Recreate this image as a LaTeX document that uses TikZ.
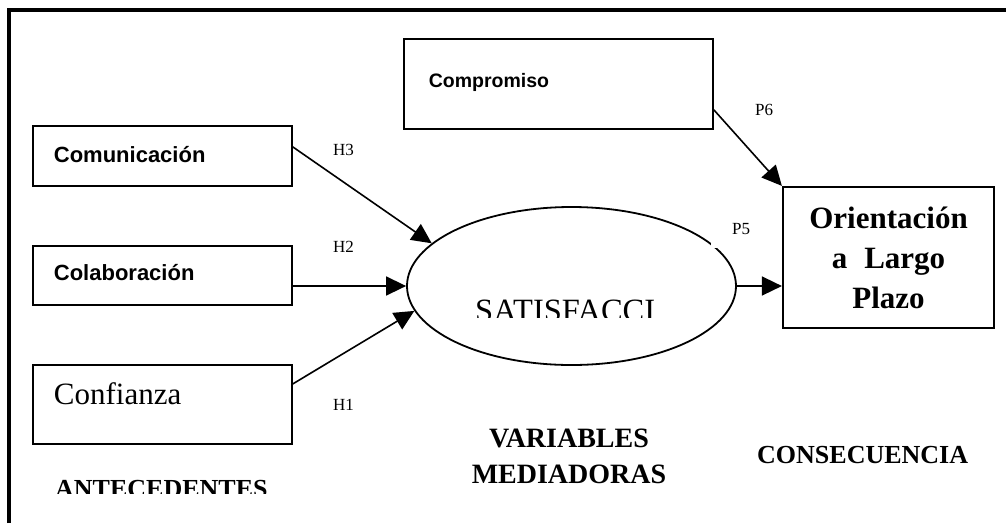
\documentclass[tikz,border=0pt]{standalone}
\usepackage{fontspec}
\setmainfont{Liberation Serif}
\setsansfont{Liberation Sans}
\usetikzlibrary{arrows.meta,shapes.geometric}
\begin{document}
\begin{tikzpicture}[x=1pt,y=-1pt,
  box/.style={draw,line width=1.8pt,rectangle,inner ysep=0pt,align=left},
  conn/.style={line width=1.6pt,-{Triangle[length=20pt,width=19pt]}},
  lab/.style={font=\fontsize{17}{17}\selectfont,anchor=base west,inner sep=0pt},
  sanslbl/.style={font=\sffamily\bfseries\fontsize{22}{22}\selectfont},
  hdr/.style={font=\bfseries\fontsize{28}{28}\selectfont,anchor=base,inner sep=0pt}]
\useasboundingbox (0,0) rectangle (1006,523);
% frame
\draw[line width=4pt,line join=miter] (9,523) -- (9,10) -- (1006,10);
% boxes
\node[box,sanslbl,anchor=north west,inner xsep=21pt,text width=217pt,text height=37pt,text depth=23pt] (com) at (32,125) {Comunicación};
\node[box,sanslbl,anchor=north west,inner xsep=21pt,text width=217pt,text height=35pt,text depth=24pt] (col) at (32,245) {Colaboración};
\node[box,font=\fontsize{31}{31}\selectfont,anchor=north west,inner xsep=21pt,text width=217pt,text height=40pt,text depth=39pt] (conf) at (32,364) {Confianza};
\node[box,font=\sffamily\bfseries\fontsize{19.5}{19.5}\selectfont,anchor=north west,inner xsep=25pt,text width=259pt,text height=49pt,text depth=41pt] (comp) at (403,38) {Compromiso};
\node[draw,line width=2.2pt,rectangle,inner sep=0pt,minimum width=211pt,minimum height=141pt,align=center,font=\bfseries\fontsize{31}{40}\selectfont] (ori) at (888.5,257.5) {Orientación\\a\hspace{17pt}Largo\\Plazo};
% ellipse
\node[ellipse,draw,line width=1.8pt,minimum width=329pt,minimum height=158pt,inner sep=0pt] (sat) at (571.5,286) {};
\begin{scope}
  \clip (460,290) rectangle (690,317);
  \node[font=\fontsize{32.5}{32.5}\selectfont,anchor=base west,inner sep=0pt] (sattxt) at (475,321) {SATISFACCI};
\end{scope}
% connectors
\draw[conn] ([yshift=9pt]com.east) -- (sat.163);
\draw[conn] (sat.west -| col.east) -- (sat.west);
\draw[conn] ([yshift=20.5pt]conf.east) -- (sat.189);
\draw[conn] (sat.east) -- (sat.east -| ori.west);
\draw[conn] ([yshift=20pt]comp.south east) -- (ori.north west);
% labels
\fill[white] (711,248) rectangle (760,214);
\node[lab] (h3) at (333,155) {H3};
\node[lab] (h2) at (333,252) {H2};
\node[lab] (h1) at (333,410) {H1};
\node[lab] (p5) at (732,234) {P5};
\node[lab] (p6) at (755,115) {P6};
% headers
\node[hdr] (var1) at (569,447) {VARIABLES};
\node[hdr] (var2) at (569,483) {MEDIADORAS};
\node[font=\bfseries\fontsize{26}{26}\selectfont,anchor=base west,inner sep=0pt] (cons) at (757,463) {CONSECUENCIA};
\begin{scope}
  \clip (40,470) rectangle (300,493);
  \node[font=\bfseries\fontsize{26}{26}\selectfont,anchor=base west,inner sep=0pt] (ant) at (55,497) {ANTECEDENTES};
\end{scope}
\end{tikzpicture}
\end{document}
